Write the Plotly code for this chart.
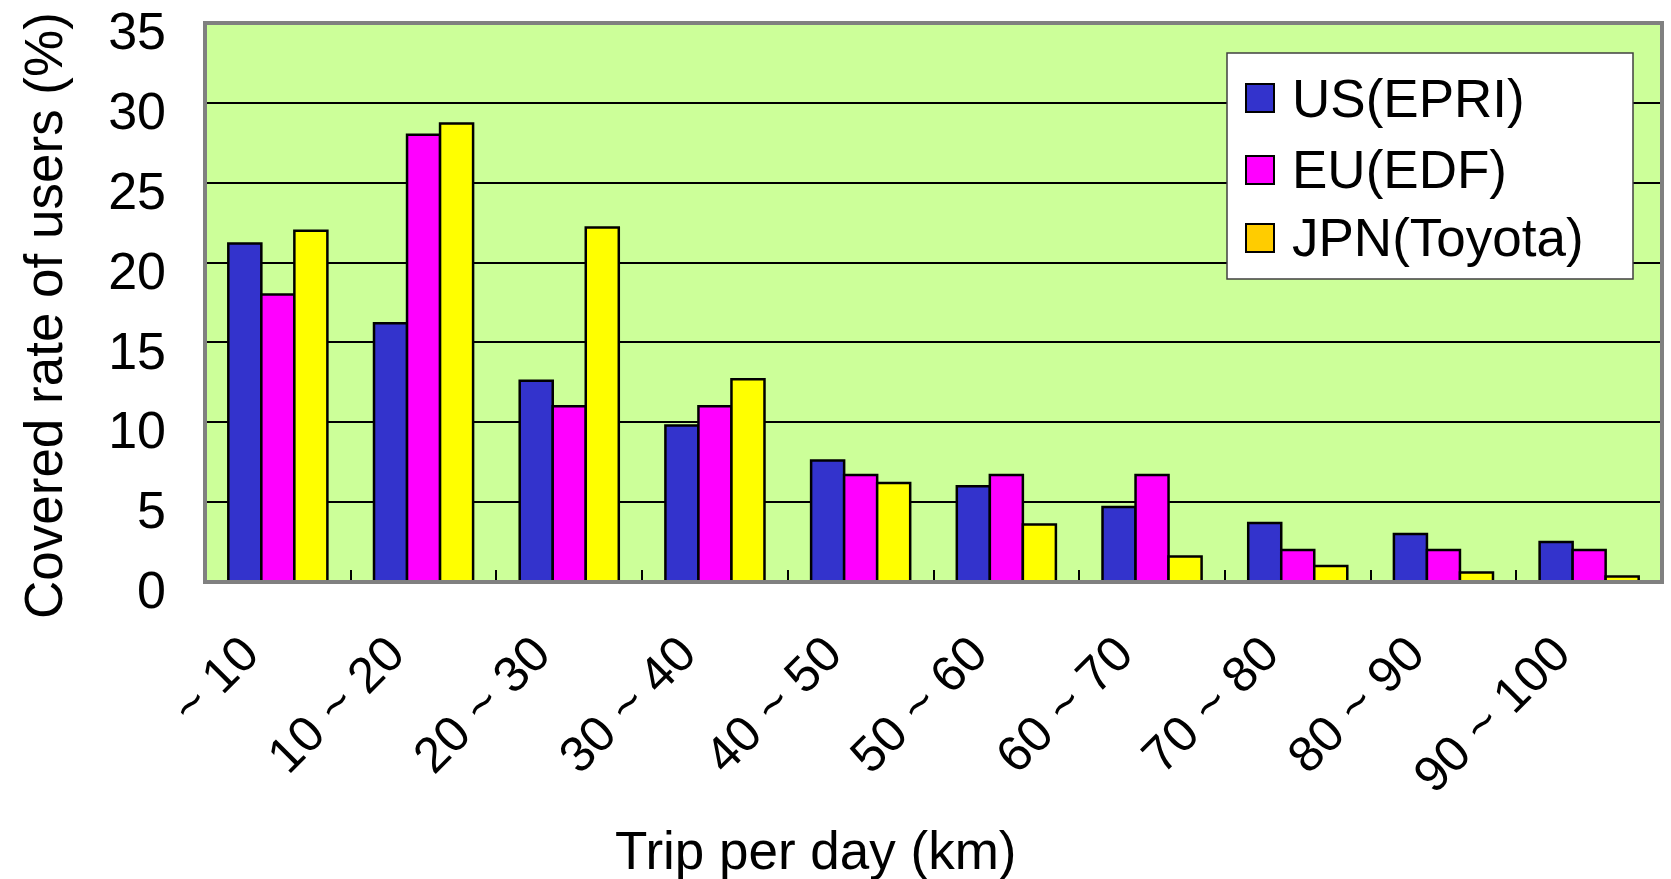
import plotly.graph_objects as go

# Daily trip distance bins and share of users per region
categories = ["~ 10", "10 ~ 20", "20 ~ 30", "30 ~ 40", "40 ~ 50",
              "50 ~ 60", "60 ~ 70", "70 ~ 80", "80 ~ 90", "90 ~ 100"]
us_epri = [21.2, 16.2, 12.6, 9.8, 7.6, 6.0, 4.7, 3.7, 3.0, 2.5]
eu_edf = [18.0, 28.0, 11.0, 11.0, 6.7, 6.7, 6.7, 2.0, 2.0, 2.0]
jpn_toyota = [22.0, 28.7, 22.2, 12.7, 6.2, 3.6, 1.6, 1.0, 0.6, 0.35]
y_ticks = [0, 5, 10, 15, 20, 25, 30, 35]

series_names = ["US(EPRI)", "EU(EDF)", "JPN(Toyota)"]
bar_colors = ["#3333CC", "#FF00FF", "#FFFF00"]
legend_colors = ["#3333CC", "#FF00FF", "#FFCC00"]

W, H = 1671, 879
L, R, T, B = 205, 9, 23, 297
plot_w = W - L - R
plot_h = H - T - B

FONT = "Liberation Sans, Arial, sans-serif"


def px(xpix):
    return (xpix - L) / plot_w


def py(ypix):
    return (H - B - ypix) / plot_h


fig = go.Figure()
for name, vals, col in zip(series_names, [us_epri, eu_edf, jpn_toyota], bar_colors):
    fig.add_trace(go.Bar(
        x=categories, y=vals, name=name,
        marker=dict(color=col, line=dict(color="black", width=2.5)),
        showlegend=False,
    ))

fig.update_layout(
    width=W, height=H,
    margin=dict(l=L, r=R, t=T, b=B, pad=0, autoexpand=False),
    paper_bgcolor="white",
    plot_bgcolor="#CCFF99",
    barmode="group",
    bargap=0.32,
    bargroupgap=0,
    font=dict(family=FONT, size=50, color="black"),
    xaxis=dict(
        type="category",
        automargin=False,
        tickangle=-45,
        tickson="boundaries",
        ticks="inside",
        ticklen=12,
        tickwidth=2,
        tickcolor="black",
        showline=True,
        linecolor="black",
        linewidth=2,
        showgrid=False,
        tickfont=dict(size=50),
        ticklabelstandoff=20,
        ticklabelshift=-34,
    ),
    yaxis=dict(
        range=[0, 35],
        automargin=False,
        tickmode="array",
        tickvals=y_ticks,
        ticktext=[str(v) for v in y_ticks],
        showgrid=True,
        gridcolor="black",
        gridwidth=2,
        zeroline=False,
        showline=False,
        ticks="",
        tickfont=dict(size=52),
        ticklabelstandoff=38,
        ticklabeloverflow="allow",
        ticklabelshift=8,
    ),
)

# Plot frame
fig.add_shape(type="rect", xref="paper", yref="paper", x0=0, x1=1, y0=0, y1=1,
              line=dict(color="#808080", width=4), fillcolor="rgba(0,0,0,0)", layer="above")

# Axis titles
fig.add_annotation(text="Trip per day (km)", xref="paper", yref="paper",
                   x=px(816), y=py(850), showarrow=False,
                   xanchor="center", yanchor="middle", font=dict(size=53))
fig.add_annotation(text="Covered rate of users (%)", xref="paper", yref="paper",
                   x=px(43), y=py(316), showarrow=False, textangle=-90,
                   xanchor="center", yanchor="middle", font=dict(size=53))

# Legend box
fig.add_shape(type="rect", xref="paper", yref="paper",
              x0=px(1227), x1=px(1633), y0=py(279), y1=py(53),
              line=dict(color="#404040", width=1.5), fillcolor="white", layer="above")
row_centers = [98, 170, 238]
for name, col, yc in zip(series_names, legend_colors, row_centers):
    fig.add_shape(type="rect", xref="paper", yref="paper",
                  x0=px(1246), x1=px(1274), y0=py(yc + 14), y1=py(yc - 14),
                  line=dict(color="black", width=2), fillcolor=col, layer="above")
    fig.add_annotation(text=name, xref="paper", yref="paper",
                       x=px(1290), y=py(yc), showarrow=False,
                       xanchor="left", yanchor="middle", font=dict(size=53))

fig.write_html("out.html")
